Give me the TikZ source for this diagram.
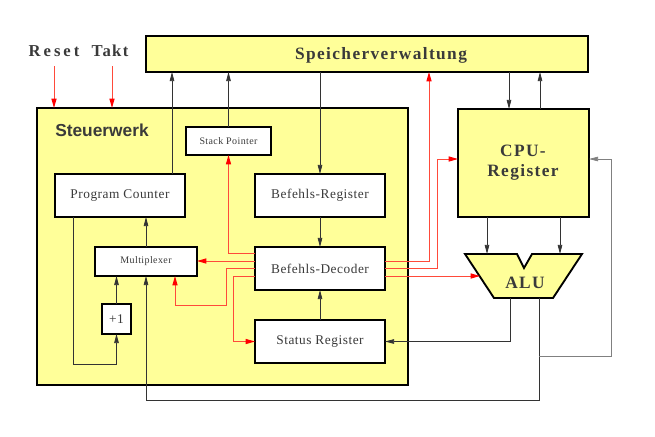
\documentclass[tikz,border=0pt]{standalone}
\usepackage{fontspec}
\setmainfont{Liberation Serif}
\newfontfamily\headsans{Liberation Sans}
\newfontfamily\unitserif[LetterSpace=4]{Liberation Serif}
\newfontfamily\wideserif[LetterSpace=8]{Liberation Serif}
\newfontfamily\widerserif[LetterSpace=18]{Liberation Serif}
\usetikzlibrary{arrows.meta}
\definecolor{boxyellow}{HTML}{FFFF99}
\definecolor{labelgray}{HTML}{3A3A3A}
\definecolor{ctrlred}{HTML}{FF4A3A}

\begin{document}
\begin{tikzpicture}[x=0.75pt,y=-0.75pt,
  unit/.style={draw, line width=1.4pt, fill=white, inner sep=0pt, outer sep=0pt,
    text=labelgray, font=\unitserif\fontsize{10}{12}\selectfont},
  bigbox/.style={draw, line width=1.4pt, fill=boxyellow, inner sep=0pt, outer sep=0pt},
  title/.style={text=labelgray, inner sep=1pt, font=\wideserif\fontsize{13}{15}\selectfont\bfseries},
  bus/.style={-{Triangle[length=6.8pt,width=3.4pt]}, line width=0.55pt, black!80},
  ctrl/.style={-{Triangle[length=7pt,width=3.8pt,color=red]}, line width=0.75pt, ctrlred}]
  \useasboundingbox (0,0) rectangle (655,436);

  % outer blocks
  \node[bigbox, minimum width=278.25pt, minimum height=207.75pt] (steuer) at (222.5,246.5) {};
  \node[bigbox, minimum width=331.5pt, minimum height=27pt] (spv) at (367,54) {};
  \node[bigbox, minimum width=98.25pt, minimum height=81pt] (cpureg) at (523.5,163) {};
  \draw[line width=1.4pt, fill=boxyellow] (465,254) -- (517,254) -- (524,268) -- (532,254)
    -- (582,254) -- (553,298) -- (494,298) -- cycle;

  \node[title] (spvtext) at (381,55) {Speicherverwaltung};
  \node[title, align=center] (cputext) at (523,163) {CPU-\\Register};
  \node[title] (alu) at (525,283) {ALU};
  \node[text=labelgray, anchor=west, inner sep=0pt,
    font=\headsans\fontsize{13}{15}\selectfont\bfseries] (swtitle) at (55,130) {Steuerwerk};
  \node[title, font=\widerserif\fontsize{12.5}{15}\selectfont\bfseries] (reset) at (54,51) {Reset};
  \node[title, font=\wideserif\fontsize{12.5}{15}\selectfont\bfseries] (takt) at (110,51) {Takt};

  % units inside the Steuerwerk
  \node[unit, minimum width=63.75pt, minimum height=21pt, font=\unitserif\fontsize{7.5}{9}\selectfont] (sp) at (228.5,141) {Stack Pointer};
  \node[unit, minimum width=97.5pt, minimum height=32.25pt] (pc) at (120,195.5) {Program Counter};
  \node[unit, minimum width=97.5pt, minimum height=32.25pt] (breg) at (320,195.5) {Befehls-Register};
  \node[unit, minimum width=76.5pt, minimum height=21.75pt, font=\unitserif\fontsize{7.5}{9}\selectfont] (mux) at (146,261.5) {Multiplexer};
  \node[unit, minimum width=97.5pt, minimum height=32.25pt] (bdec) at (320,268.5) {Befehls-Decoder};
  \node[unit, minimum width=21.75pt, minimum height=22.5pt] (inc) at (116.5,319) {+1};
  \node[unit, minimum width=97.5pt, minimum height=32.25pt] (sreg) at (320,341.5) {Status Register};

  % data paths
  \draw[bus] (pc.north -| 172,0) -- (spv.south -| 172,0);
  \draw[bus] (sp.north) -- (sp.north |- spv.south);
  \draw[bus] (spv.south -| breg.north) -- (breg.north);
  \draw[bus] (breg) -- (bdec);
  \draw[bus] (sreg) -- (bdec);
  \draw[bus] (spv.south -| 509,0) -- (cpureg.north -| 509,0);
  \draw[bus] (cpureg.north -| 540,0) -- (spv.south -| 540,0);
  \draw[bus] (cpureg.south -| 487,0) -- (487,254);
  \draw[bus] (cpureg.south -| 560,0) -- (560,254);
  \draw[bus] (510,298) |- (sreg.east);
  \draw[bus] (539,298) -- (539,400) -| (mux.south);
  \draw[bus, black!50] (539,356) -| (611,159) -- (cpureg.east |- 611,159);
  \draw[bus] (mux.north) -- (mux.north |- pc.south);
  \draw[bus] (inc.north) -- (inc.north |- mux.south);
  \draw[bus] (pc.south -| 73,0) -- (73,364) -| (inc.south);

  % control lines
  \draw[ctrl] (reset.south |- 0,66) -- (reset.south |- steuer.north);
  \draw[ctrl] (takt.south -| 112,0) ++(0,8) -- (steuer.north -| 112,0);
  \draw[ctrl] (bdec.west |- 0,253) -| (sp.south);
  \draw[ctrl] (bdec.west |- 0,261) -- (mux.east |- 0,261);
  \draw[ctrl] (bdec.west |- 0,268) -- (226,268) -- (226,305) -| (mux.south -| 175,0);
  \draw[ctrl] (bdec.west |- 0,276) -- (233,276) |- (sreg.west);
  \draw[ctrl] (bdec.east |- 0,261) -| (spv.south -| 429,0);
  \draw[ctrl] (bdec.east |- 0,268) -- (437,268) |- (cpureg.west |- 0,159);
  \draw[ctrl] (bdec.east |- 0,276) -- (480,276);
\end{tikzpicture}
\end{document}
